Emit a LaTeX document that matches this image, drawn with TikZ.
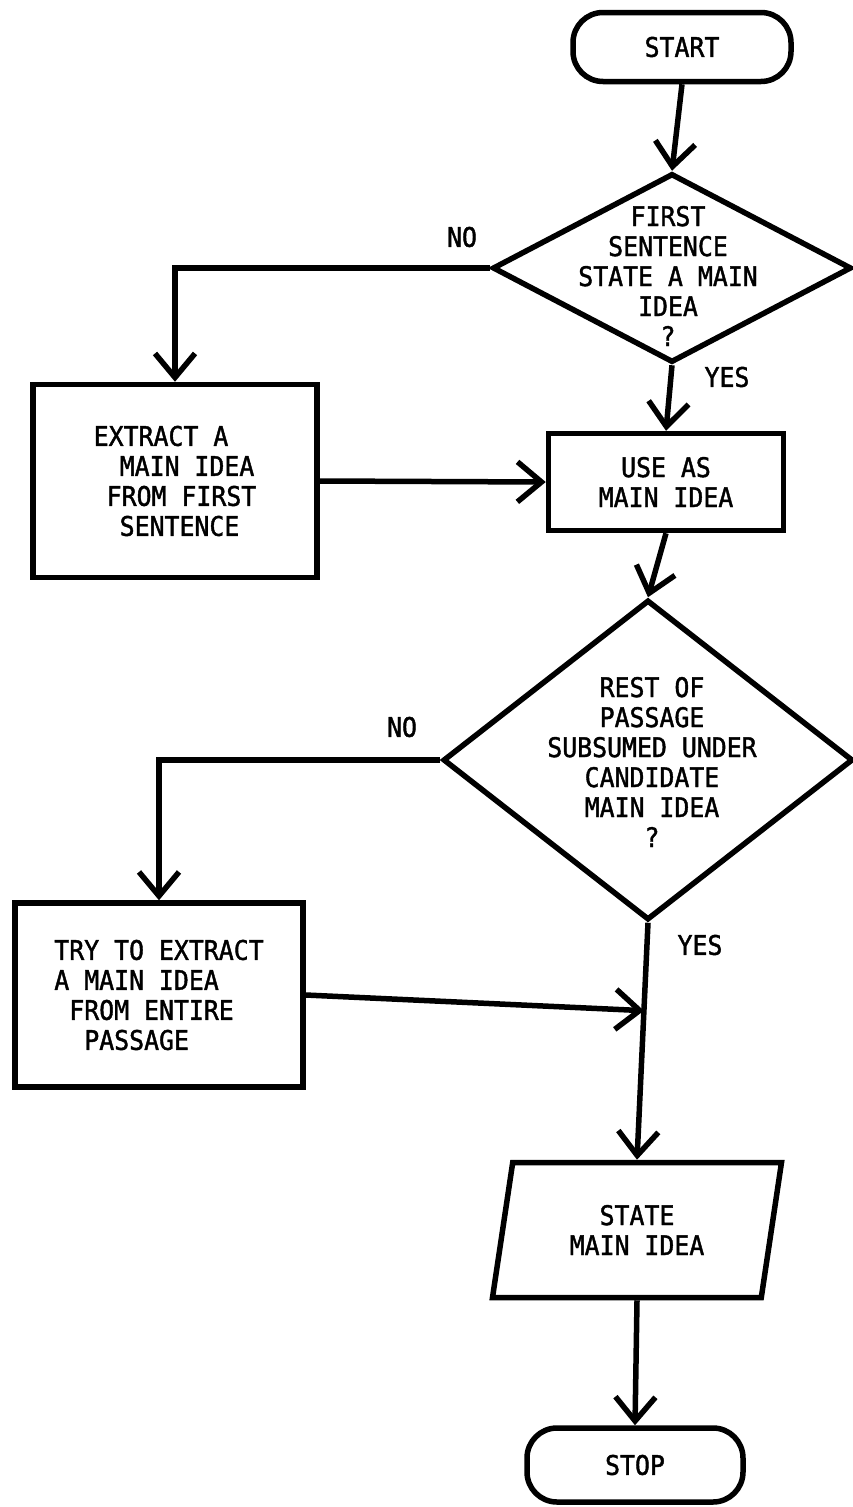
\documentclass[tikz,border=0pt]{standalone}
\usepackage{fontspec}
\newfontfamily\chartfont[FakeStretch=0.92,FakeBold=1.5]{DejaVu Sans Mono}
\usetikzlibrary{shapes.geometric,arrows.meta,calc}

\begin{document}
\begin{tikzpicture}[x=1pt,y=-1pt,line width=5.5pt,
  font=\chartfont\fontsize{27}{30}\selectfont,
  terminal/.style={draw,rectangle,rounded corners=30pt,inner sep=0pt},
  box/.style={draw,rectangle,inner sep=0pt},
  decision/.style={draw,diamond,inner sep=0pt},
  io/.style={draw,trapezium,trapezium left angle=68,trapezium right angle=112,
    trapezium stretches body=true,inner sep=0pt,align=center},
  arr/.style={-{Straight Barb[length=24pt,width=40pt]}},
  lbl/.style={inner sep=0pt}]
  \useasboundingbox (0,0) rectangle (853,1507);

  \node[terminal,minimum width=218pt,minimum height=69pt] (start) at (682,47) {START};
  \node[decision,minimum width=359pt,minimum height=189pt,
    label={[align=center,xshift=-4pt,yshift=-8pt]center:FIRST\\SENTENCE\\STATE A MAIN\\IDEA\\?}] (q1) at (672,268) {};
  \node[box,minimum width=284pt,minimum height=193pt,align=left] (extract) at (175,481)
    {EXTRACT A\\\hspace*{26pt}MAIN IDEA\\\hspace*{13pt}FROM FIRST\\\hspace*{26pt}SENTENCE};
  \node[box,minimum width=235pt,minimum height=97pt,align=center] (use) at (666,482) {USE AS\\MAIN IDEA};
  \node[decision,minimum width=410pt,minimum height=320pt,
    label={[align=center,xshift=4pt,yshift=-2pt]center:REST OF\\PASSAGE\\SUBSUMED UNDER\\CANDIDATE\\MAIN IDEA\\?}] (q2) at (648,760) {};
  \node[box,minimum width=288pt,minimum height=184pt,align=left] (try) at (159,995)
    {TRY TO EXTRACT\\A MAIN IDEA\\\hspace*{15pt}FROM ENTIRE\\\hspace*{30pt}PASSAGE};
  \node[io,minimum width=289pt,minimum height=135pt] (out) at (637,1230) {STATE\\MAIN IDEA};
  \node[terminal,minimum width=216pt,minimum height=74pt] (stop) at (635,1465) {STOP};

  \node[lbl] (no1) at (462,237) {NO};
  \node[lbl] (yes1) at (727,377) {YES};
  \node[lbl] (no2) at (402,727) {NO};
  \node[lbl] (yes2) at (700,945) {YES};

  \coordinate (join) at ($(q2.south)!(try.east)!(out.north)$);

  \draw[arr] (start.south) -- (q1.north);
  \draw[arr] (q1.west) -| (extract.north);
  \draw[arr] (q1.south) -- (use.north);
  \draw[arr] (extract.east) -- (use.west);
  \draw[arr] (use.south) -- (q2.north);
  \draw[arr] (q2.west) -| (try.north);
  \draw[arr] (q2.south) -- (out.north);
  \draw[arr] (try.east) -- (join);
  \draw[arr] (out.south) -- (stop.north);
\end{tikzpicture}
\end{document}
